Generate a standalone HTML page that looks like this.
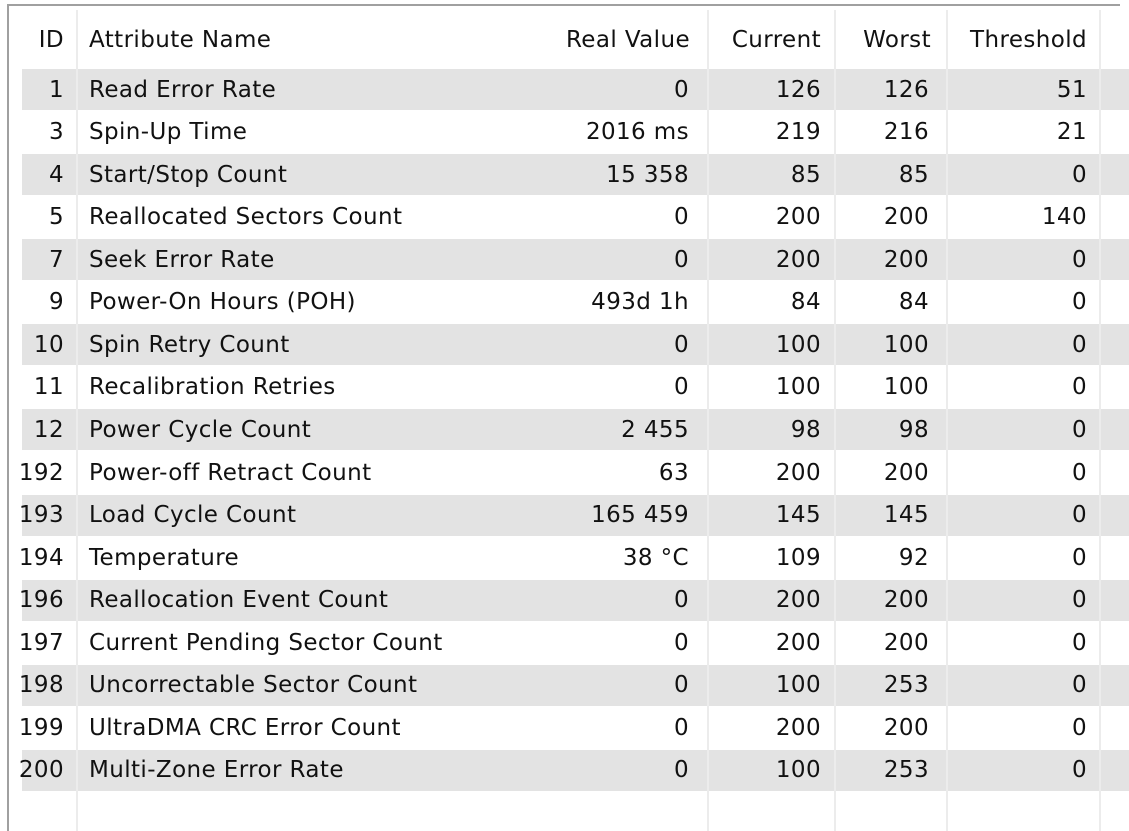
<!DOCTYPE html>
<html><head><meta charset="utf-8"><style>
body{margin:0;width:1129px;height:831px;background:#fff;overflow:hidden;position:relative;font-family:"DejaVu Sans","Liberation Sans",sans-serif;font-size:23px;letter-spacing:0.4px;color:#111}
.b{position:absolute}
.row{position:absolute;left:22px;right:0;height:41px;background:#e3e3e3}
.sep{position:absolute;top:10px;bottom:0;width:2px;background:#ececec}
.t{position:absolute;white-space:nowrap;line-height:42px;height:42px}
.r{text-align:right}
</style></head><body>
<div class="b" style="left:7px;top:4px;right:9px;height:2px;background:#a0a0a0"></div>
<div class="b" style="left:7px;top:4px;width:2px;bottom:0;background:#a0a0a0"></div>
<div id="rows"></div>
<div class="sep" style="left:76px"></div>
<div class="sep" style="left:707px"></div>
<div class="sep" style="left:834px"></div>
<div class="sep" style="left:946px"></div>
<div class="sep" style="left:1099px"></div>
<div id="cells"></div>
<script>
(function(){
var d=[["1","Read Error Rate","0","126","126","51"],["3","Spin-Up Time","2016 ms","219","216","21"],["4","Start/Stop Count","15 358","85","85","0"],["5","Reallocated Sectors Count","0","200","200","140"],["7","Seek Error Rate","0","200","200","0"],["9","Power-On Hours (POH)","493d 1h","84","84","0"],["10","Spin Retry Count","0","100","100","0"],["11","Recalibration Retries","0","100","100","0"],["12","Power Cycle Count","2 455","98","98","0"],["192","Power-off Retract Count","63","200","200","0"],["193","Load Cycle Count","165 459","145","145","0"],["194","Temperature","38 \u00b0C","109","92","0"],["196","Reallocation Event Count","0","200","200","0"],["197","Current Pending Sector Count","0","200","200","0"],["198","Uncorrectable Sector Count","0","100","253","0"],["199","UltraDMA CRC Error Count","0","200","200","0"],["200","Multi-Zone Error Rate","0","100","253","0"]];
var rs="",cs="";
function cell(y,txt,l,rgt){ if(rgt!=null) return '<div class="t r" style="top:'+y+'px;right:'+(1129-rgt)+'px">'+txt+'</div>'; return '<div class="t" style="top:'+y+'px;left:'+l+'px">'+txt+'</div>';}
var hy=19;
cs+=cell(hy,"ID",null,64)+cell(hy,"Attribute Name",89)+cell(hy,"Real Value",null,690)+cell(hy,"Current",null,821)+cell(hy,"Worst",null,931)+cell(hy,"Threshold",null,1087);
for(var i=0;i<d.length;i++){var yy=68.5+i*42.56;
if(i%2==0)rs+='<div class="row" style="top:'+(yy+0.5)+'px"></div>';
var r=d[i];cs+=cell(yy,r[0],null,64)+cell(yy,r[1],89)+cell(yy,r[2],null,689)+cell(yy,r[3],null,821)+cell(yy,r[4],null,929)+cell(yy,r[5],null,1087);}
document.getElementById("rows").innerHTML=rs;document.getElementById("cells").innerHTML=cs;
})();
</script>
</body></html>
